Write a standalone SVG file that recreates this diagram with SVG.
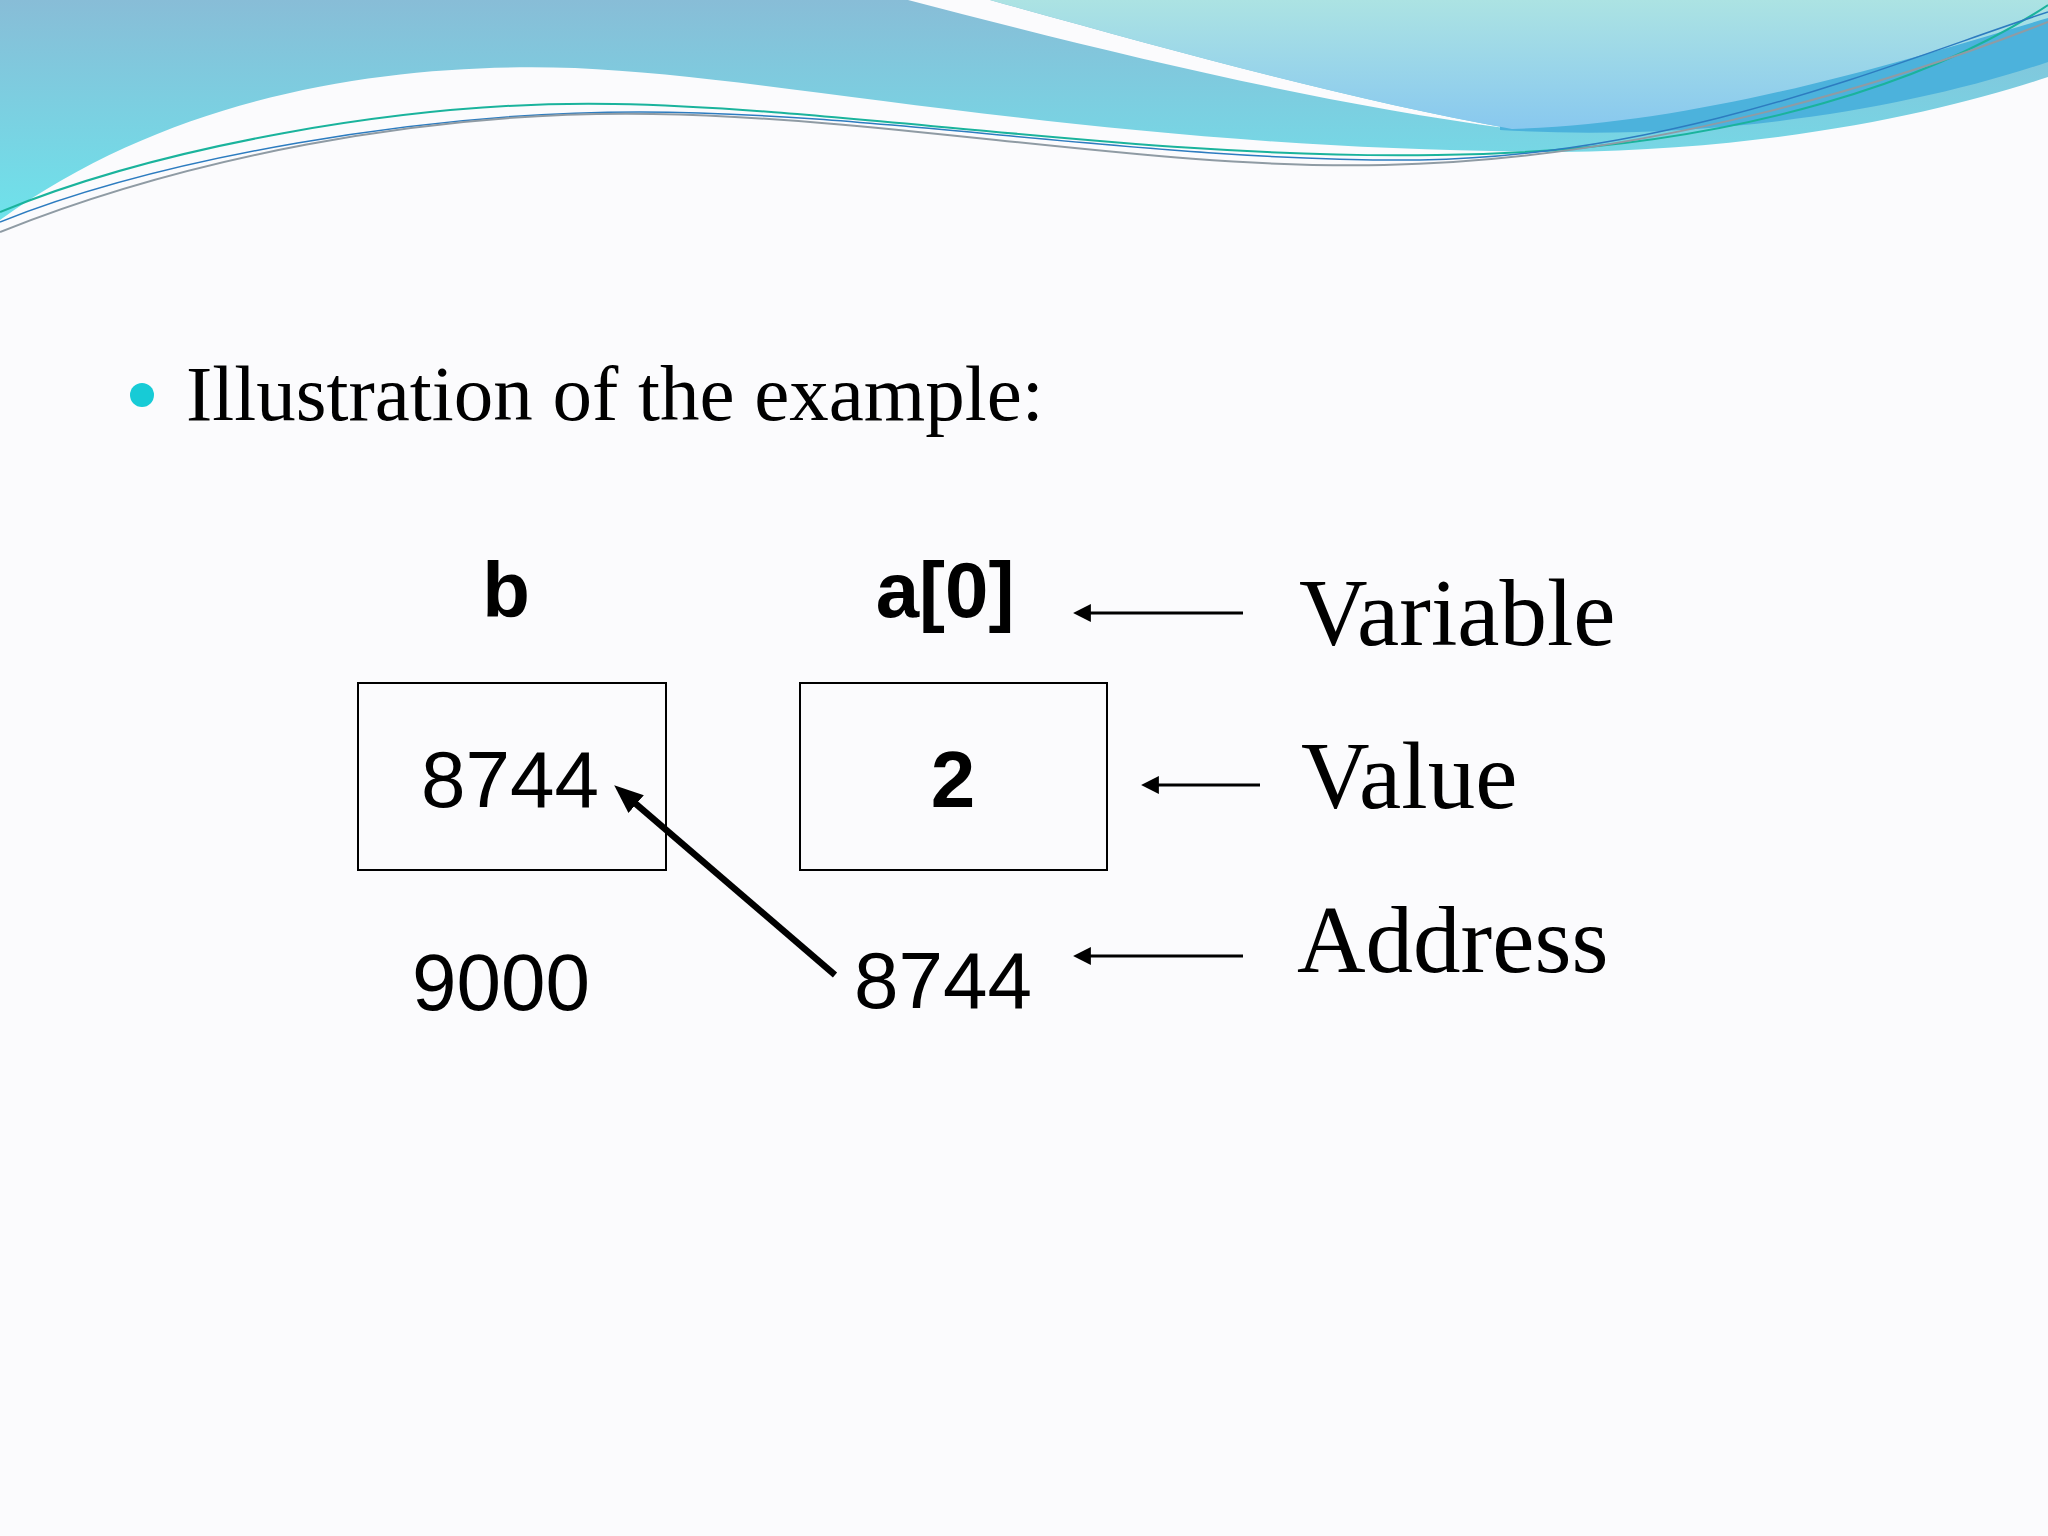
<svg xmlns="http://www.w3.org/2000/svg" width="2048" height="1536" viewBox="0 0 2048 1536">
<defs>
<linearGradient id="gA" x1="0" y1="0" x2="0" y2="230" gradientUnits="userSpaceOnUse">
<stop offset="0" stop-color="#88bdd7"/><stop offset="1" stop-color="#6de4ec"/>
</linearGradient>
<linearGradient id="gB" x1="0" y1="0" x2="0" y2="130" gradientUnits="userSpaceOnUse">
<stop offset="0" stop-color="#ace3e3"/><stop offset="1" stop-color="#88c8ef"/>
</linearGradient>
<marker id="thin" markerUnits="userSpaceOnUse" markerWidth="20" markerHeight="20" viewBox="0 -9 16 18" refX="8" refY="0" orient="auto">
<path d="M0,-8 L16,0 L0,8 Z" fill="#000"/>
</marker>
<marker id="thick" markerUnits="userSpaceOnUse" markerWidth="30" markerHeight="30" viewBox="0 -12 28 24" refX="12" refY="0" orient="auto">
<path d="M0,-11 L27,0 L0,11 Z" fill="#000"/>
</marker>
</defs>
<style>
.sans{font-family:"Liberation Sans",Arial,sans-serif;fill:#000}
.bold{font-weight:bold}
.serif{font-family:"Liberation Serif","Times New Roman",serif;fill:#000}
.box{fill:none;stroke:#000;stroke-width:2}
.thin{stroke:#000;stroke-width:3;fill:none}
.thick{stroke:#000;stroke-width:6.5;fill:none}
</style>
<rect width="2048" height="1536" fill="#fbfbfd"/>
<g id="header-wave">
<path d="M0,0 H2048 V77 C1950,110 1780,150 1560,152 C1100,150 800,78 575,68 C400,62 180,90 0,220 Z" fill="url(#gA)"/>
<path d="M908,0 C1100,50 1300,100 1512,129 C1350,100 1170,50 990,0 Z" fill="#fbfbfd"/>
<path d="M1500,126 C1700,122 1900,62 2048,15 V62 C1900,112 1700,142 1500,130 Z" fill="#4cb2dc"/>
<path d="M990,0 H2048 V18 C1900,62 1700,124 1512,129 C1350,100 1170,50 990,0 Z" fill="url(#gB)"/>
<path d="M0,212 C150,150 400,100 614,104 C850,108 1150,160 1437,155 C1750,152 1950,70 2048,5" fill="none" stroke="#1ab39c" stroke-width="2"/>
<path d="M0,222 C160,158 420,112 640,112 C880,112 1150,162 1420,160 C1680,156 1900,60 2048,12" fill="none" stroke="#2d7cc0" stroke-width="1.5"/>
<path d="M0,232 C180,160 420,110 653,114 C900,118 1150,170 1384,165 C1650,160 1900,80 2048,22" fill="none" stroke="#8f9ba4" stroke-width="2"/>
</g>
<g id="title">
<circle cx="142" cy="395" r="12" fill="#17cbd6"/>
<text class="serif" x="186" y="420" font-size="79">Illustration of the example:</text>
</g>
<g id="node-b">
<text class="sans bold" x="506" y="617" font-size="78" text-anchor="middle">b</text>
<rect class="box" x="358" y="683" width="308" height="187"/>
<text class="sans" x="510" y="807" font-size="80" text-anchor="middle">8744</text>
<text class="sans" x="501" y="1010" font-size="80" text-anchor="middle">9000</text>
</g>
<g id="node-a0">
<text class="sans bold" x="945" y="617" font-size="78" text-anchor="middle">a[0]</text>
<rect class="box" x="800" y="683" width="307" height="187"/>
<text class="sans bold" x="953" y="807" font-size="80" text-anchor="middle">2</text>
<text class="sans" x="943" y="1008" font-size="80" text-anchor="middle">8744</text>
</g>
<g id="legend">
<text class="serif" x="1299" y="645" font-size="95">Variable</text>
<text class="serif" x="1301" y="808" font-size="95">Value</text>
<text class="serif" x="1297" y="972" font-size="95">Address</text>
</g>
<g id="connectors">
<line class="thin" x1="1243" y1="613" x2="1082" y2="613" marker-end="url(#thin)"/>
<line class="thin" x1="1260" y1="785" x2="1150" y2="785" marker-end="url(#thin)"/>
<line class="thin" x1="1243" y1="956" x2="1082" y2="956" marker-end="url(#thin)"/>
<line class="thick" x1="835" y1="975" x2="626.4" y2="795.8" marker-end="url(#thick)"/>
</g>
</svg>
